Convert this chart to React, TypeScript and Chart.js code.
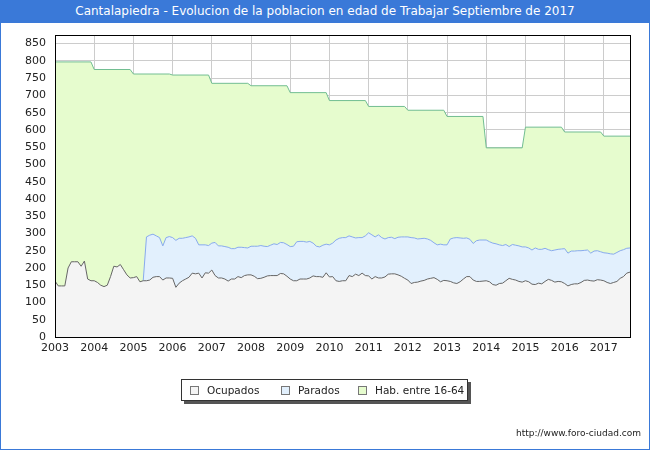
import React, { useEffect, useRef } from 'react';
import { Chart, registerables } from 'chart.js';

Chart.register(...registerables);

const FONT = "'DejaVu Sans', Verdana, sans-serif";

const START_YEAR = 2003;
const yearTicks = [2003, 2004, 2005, 2006, 2007, 2008, 2009, 2010, 2011, 2012, 2013, 2014, 2015, 2016, 2017];
const yTicks = [0, 50, 100, 150, 200, 250, 300, 350, 400, 450, 500, 550, 600, 650, 700, 750, 800, 850];

// Hab. entre 16-64, un valor por año
const habValues = [797, 775, 762, 759, 735, 728, 708, 685, 668, 657, 639, 548, 608, 594, 582];

// Ocupados, mensual desde enero 2003 hasta septiembre 2017
const ocupados = [
  162, 148, 148, 148, 200, 218, 218, 218, 205, 220, 168, 163,
  163, 158, 150, 146, 150, 175, 205, 203, 210, 195, 180, 171,
  172, 175, 160, 163, 163, 165, 173, 175, 175, 165, 171, 171,
  170, 144, 156, 163, 168, 173, 185, 183, 185, 171, 186, 185,
  194, 178, 171, 171, 168, 162, 168, 168, 175, 172, 178, 180,
  180, 176, 169, 170, 173, 177, 178, 178, 178, 184, 183, 176,
  168, 163, 163, 168, 168, 168, 171, 177, 175, 175, 173, 186,
  174, 175, 163, 161, 163, 163, 178, 175, 182, 178, 185, 178,
  177, 168, 175, 171, 171, 174, 182, 183, 183, 180, 176, 170,
  165, 155, 158, 159, 162, 164, 168, 170, 172, 167, 160, 164,
  163, 161, 157, 155, 160, 168, 175, 175, 165, 161, 161, 162,
  163, 160, 152, 150, 155, 156, 163, 170, 167, 165, 161, 159,
  163, 160, 153, 152, 156, 154, 161, 167, 164, 159, 161, 160,
  155, 148, 152, 154, 154, 158, 164, 165, 163, 162, 166, 165,
  163, 158, 155, 158, 161, 170, 175, 185, 188,
];

// Parados (línea superior), sin datos hasta abril 2005
const parados: (number | null)[] = [
  null, null, null, null, null, null, null, null, null, null, null, null,
  null, null, null, null, null, null, null, null, null, null, null, null,
  null, null, null, 163, 290, 295, 298, 293, 288, 264, 288, 291,
  288, 280, 286, 286, 288, 290, 293, 286, 267, 267, 267, 265,
  272, 274, 264, 264, 262, 260, 256, 256, 260, 260, 259, 258,
  263, 263, 263, 265, 263, 262, 266, 270, 268, 274, 273, 268,
  262, 263, 276, 277, 277, 275, 277, 272, 263, 261, 266, 269,
  267, 272, 281, 286, 288, 288, 293, 290, 287, 288, 288, 293,
  302, 296, 290, 296, 288, 284, 288, 289, 285, 289, 290, 290,
  290, 288, 287, 284, 285, 286, 284, 280, 273, 267, 269, 267,
  267, 284, 287, 288, 287, 286, 287, 283, 271, 279, 281, 281,
  281, 276, 272, 270, 267, 265, 268, 262, 268, 266, 264, 261,
  261, 258, 252, 258, 254, 254, 257, 253, 250, 252, 254, 255,
  256, 243, 249, 249, 250, 250, 251, 252, 243, 249, 250, 247,
  244, 243, 241, 240, 245, 250, 253, 257, 258,
];

const LAST_X = START_YEAR + (ocupados.length - 1) / 12;

const frameBorder = {
  id: 'frameBorder',
  afterDraw(chart: Chart) {
    const { ctx, chartArea } = chart;
    ctx.save();
    ctx.strokeStyle = '#000';
    ctx.lineWidth = 1;
    ctx.strokeRect(
      Math.round(chartArea.left) + 0.5,
      Math.round(chartArea.top) + 0.5,
      Math.round(chartArea.right - chartArea.left),
      Math.round(chartArea.bottom - chartArea.top),
    );
    ctx.restore();
  },
};

export default function App() {
  const canvasRef = useRef<HTMLCanvasElement | null>(null);

  useEffect(() => {
    if (!canvasRef.current) return;

    const monthly = (arr: (number | null)[]) =>
      arr.map((v, i) => ({ x: START_YEAR + i / 12, y: v }));

    // escalones anuales: primer y último mes de cada año
    const habPoints: { x: number; y: number }[] = [];
    habValues.forEach((v, i) => {
      const y0 = yearTicks[i];
      habPoints.push({ x: y0, y: v });
      habPoints.push({ x: Math.min(y0 + 11 / 12, LAST_X), y: v });
    });

    const chart = new Chart(canvasRef.current, {
      type: 'line',
      plugins: [frameBorder],
      data: {
        datasets: [
          {
            label: 'Ocupados',
            data: monthly(ocupados),
            borderColor: '#666666',
            backgroundColor: '#f4f4f4',
            borderWidth: 1,
            fill: 'origin',
            pointRadius: 0,
            tension: 0,
          },
          {
            label: 'Parados',
            data: monthly(parados),
            borderColor: '#88aaee',
            backgroundColor: '#e2f0fd',
            borderWidth: 1,
            fill: 'origin',
            pointRadius: 0,
            tension: 0,
            spanGaps: false,
          },
          {
            label: 'Hab. entre 16-64',
            data: habPoints,
            borderColor: '#72be92',
            backgroundColor: '#e6fcce',
            borderWidth: 1,
            fill: 'origin',
            pointRadius: 0,
            tension: 0,
          },
        ],
      },
      options: {
        animation: false,
        responsive: false,
        devicePixelRatio: 1,
        layout: { padding: { left: 0, right: 20, top: 35, bottom: 91 } },
        plugins: {
          legend: { display: false },
          tooltip: { enabled: false },
          title: { display: false },
        },
        scales: {
          x: {
            type: 'linear',
            min: START_YEAR,
            max: LAST_X,
            afterBuildTicks: (s: any) => {
              s.ticks = yearTicks.map(v => ({ value: v }));
            },
            afterFit: (s: any) => {
              s.height = 22;
            },
            ticks: {
              color: '#222',
              font: { family: FONT, size: 11 },
              padding: 5,
              maxRotation: 0,
              autoSkip: false,
              callback: (v: any) => String(v),
            },
            grid: { color: '#cccccc', drawTicks: false },
            border: { color: '#000' },
          },
          y: {
            min: 0,
            max: 875,
            afterBuildTicks: (s: any) => {
              s.ticks = yTicks.map(v => ({ value: v }));
            },
            afterFit: (s: any) => {
              s.width = 55;
            },
            ticks: {
              color: '#222',
              font: { family: FONT, size: 11 },
              padding: 9,
              autoSkip: false,
            },
            grid: { color: '#cccccc', drawTicks: false },
            border: { color: '#000' },
          },
        },
      } as any,
    });

    return () => {
      chart.destroy();
    };
  }, []);

  const legendItems = [
    { label: 'Ocupados', color: '#f4f4f4', left: 190 },
    { label: 'Parados', color: '#e2f0fd', left: 281 },
    { label: 'Hab. entre 16-64', color: '#e6fcce', left: 358 },
  ];

  return (
    <div
      style={{
        position: 'fixed', top: 0, left: 0, width: 650, height: 450,
        background: '#fff', fontFamily: FONT, overflow: 'hidden',
      }}
    >
      <canvas ref={canvasRef} width={650} height={450} style={{ position: 'absolute', top: 0, left: 0 }} />

      {/* Título */}
      <div
        style={{
          position: 'absolute', top: 0, left: 0, width: 650, height: 23,
          background: '#3a79d8', color: '#fff', fontSize: 12,
          lineHeight: '23px', textAlign: 'center', whiteSpace: 'nowrap',
        }}
      >
        Cantalapiedra - Evolucion de la poblacion en edad de Trabajar Septiembre de 2017
      </div>

      {/* Leyenda */}
      <div
        style={{
          position: 'absolute', left: 181, top: 379, width: 285, height: 20,
          border: '1px solid #333', boxShadow: '3px 3px 0 #555', background: '#fff',
        }}
      />
      {legendItems.map(it => (
        <div
          key={it.label}
          style={{
            position: 'absolute', left: it.left, top: 380, height: 20,
            display: 'flex', alignItems: 'center', fontSize: 10.5, color: '#222',
            whiteSpace: 'nowrap',
          }}
        >
          <span
            style={{
              display: 'inline-block', width: 7, height: 7, border: '1px solid #777',
              background: it.color, marginRight: 8,
            }}
          />
          <span>{it.label}</span>
        </div>
      ))}

      <div
        style={{
          position: 'absolute', right: 9, top: 428, fontSize: 9, color: '#222',
          whiteSpace: 'nowrap',
        }}
      >
        http://www.foro-ciudad.com
      </div>

      {/* borde exterior */}
      <div
        style={{
          position: 'absolute', top: 0, left: 0, width: 648, height: 448,
          border: '1px solid #3a79d8', pointerEvents: 'none',
        }}
      />
    </div>
  );
}
